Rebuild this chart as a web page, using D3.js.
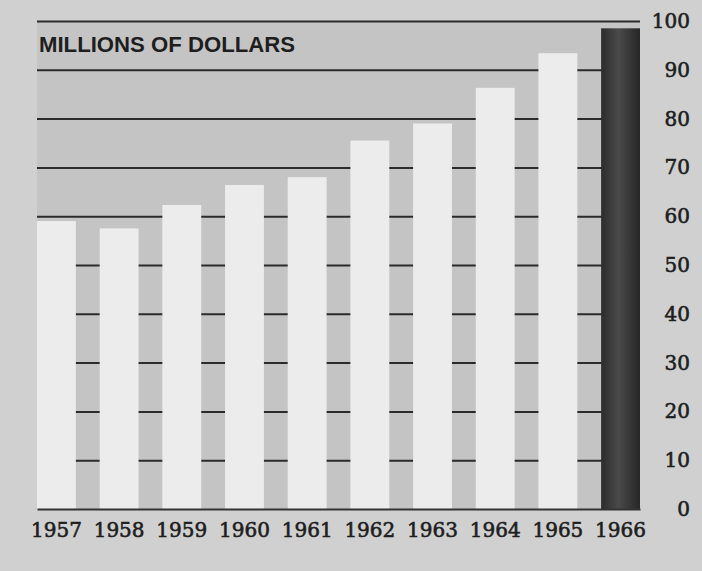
<!DOCTYPE html>
<html lang="en">
	<head>
		<meta charset="utf-8">
		<title>Millions of dollars, 1957-1966</title>
		<script src="https://cdn.jsdelivr.net/npm/d3@7"></script>
		<style type="text/css">
			body { margin: 0; background: #cfcfcf; }
		</style>
	</head>
	<body>
		<script type="text/javascript">
			// data
			var years = ["1957", "1958", "1959", "1960", "1961", "1962", "1963", "1964", "1965", "1966"];
			var values = [59, 57.5, 62.3, 66.4, 68, 75.5, 79, 86.3, 93.4, 98.5];
			var yTicks = [0, 10, 20, 30, 40, 50, 60, 70, 80, 90, 100];
			var highlightYear = "1966";

			var w = 702;
			var h = 571;
			var margin = {top: 21, right: 62, bottom: 62, left: 37};

			var svg = d3.select("body")
						.append("svg")
						.attr("width", w)
						.attr("height", h);

			// paper background
			svg.append("rect")
				.attr("width", w)
				.attr("height", h)
				.attr("fill", "#d0d0d0");

			var xScale = d3.scaleBand()
						.domain(years)
						.range([margin.left, w - margin.right])
						.paddingInner(0.38)
						.paddingOuter(0);

			var yScale = d3.scaleLinear()
						.domain([0, 100])
						.range([h - margin.bottom, margin.top]);

			// plot area tone
			svg.append("rect")
				.attr("x", margin.left)
				.attr("y", margin.top)
				.attr("width", w - margin.right - margin.left)
				.attr("height", h - margin.bottom - margin.top)
				.attr("fill", "#c4c4c4");

			// gradient for the dark bar
			var grad = svg.append("defs").append("linearGradient")
				.attr("id", "dark")
				.attr("x1", "0").attr("x2", "1").attr("y1", "0").attr("y2", "0");
			grad.append("stop").attr("offset", "0").attr("stop-color", "#2c2c2c");
			grad.append("stop").attr("offset", "0.45").attr("stop-color", "#4a4a4a");
			grad.append("stop").attr("offset", "1").attr("stop-color", "#262626");

			// gridlines
			svg.append("g")
				.attr("class", "grid")
				.attr("transform", "translate(" + margin.left + ",0)")
				.call(d3.axisRight(yScale)
					.tickValues(yTicks.filter(function(d) { return d > 0; }))
					.tickSize(w - margin.right - margin.left)
					.tickFormat(""))
				.call(function(g) {
					g.select(".domain").remove();
					g.selectAll("line").attr("stroke", "#2b2b2b").attr("stroke-width", 2);
				});

			// bars
			svg.selectAll("rect.bar")
			   .data(values)
			   .enter()
			   .append("rect")
			   .attr("class", "bar")
			   .attr("x", function(d, i) { return xScale(years[i]); })
			   .attr("y", function(d) { return yScale(d); })
			   .attr("width", xScale.bandwidth())
			   .attr("height", function(d) { return yScale(0) - yScale(d); })
			   .attr("fill", function(d, i) {
					return years[i] === highlightYear ? "url(#dark)" : "#ececec";
			   });

			// shared look for the number labels
			function numberStyle(sel) {
				sel.attr("font-family", "'DejaVu Serif', serif")
					.attr("font-size", "20px")
					.attr("fill", "#1e1e1e")
					.attr("stroke", "#1e1e1e")
					.attr("stroke-width", 0.6);
			}

			// x axis
			svg.append("g")
				.attr("class", "x axis")
				.attr("transform", "translate(0," + yScale(0) + ")")
				.call(d3.axisBottom(xScale).tickSize(0).tickPadding(14))
				.call(function(g) {
					g.select(".domain").attr("stroke", "#333").attr("stroke-width", 2);
					g.selectAll("text").call(numberStyle);
				});

			// y axis labels on the right
			svg.append("g")
				.attr("class", "y axis")
				.attr("transform", "translate(" + (w - 12) + ",0)")
				.call(d3.axisLeft(yScale).tickValues(yTicks).tickSize(0).tickPadding(0))
				.call(function(g) {
					g.select(".domain").remove();
					g.selectAll("text").call(numberStyle);
				});

			// title
			svg.append("text")
				.attr("x", margin.left + 2)
				.attr("y", 52)
				.attr("font-family", "'Liberation Sans', Arial, sans-serif")
				.attr("font-weight", "bold")
				.attr("font-size", "22px")
				.attr("textLength", 256)
				.attr("lengthAdjust", "spacingAndGlyphs")
				.attr("fill", "#1e1e1e")
				.text("MILLIONS OF DOLLARS");
		</script>
	</body>
</html>
